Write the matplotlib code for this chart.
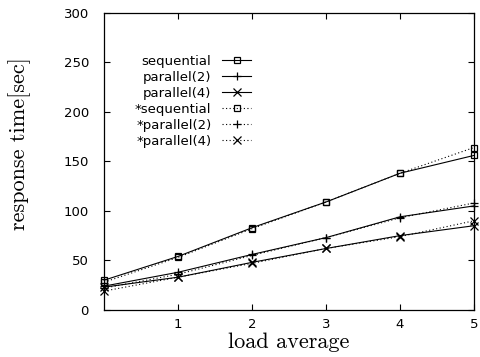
import matplotlib
matplotlib.use('Agg')
import matplotlib.pyplot as plt

loadAverage = [0, 1, 2, 3, 4, 5]

sequential = [30, 54, 83, 109, 138, 156]
parallel2 = [24, 38, 56, 73, 94, 105]
parallel4 = [23, 33, 48, 62, 75, 85]
starSequential = [28, 53, 82, 109, 138, 164]
starParallel2 = [22, 36, 55, 73, 93, 108]
starParallel4 = [19, 33, 47, 62, 74, 90]

seriesLabels = ['sequential', 'parallel(2)', 'parallel(4)',
                '*sequential', '*parallel(2)', '*parallel(4)']

xTicks = [1, 2, 3, 4, 5]
yTicks = [0, 50, 100, 150, 200, 250, 300]

fig = plt.figure(figsize=(4.8, 3.57), dpi=100)
ax = fig.add_axes([0.217, 0.132, 0.7705, 0.832])

solid = '-'
dotted = (0, (1, 2.2))
style = dict(color='black', linewidth=0.8, markerfacecolor='none',
             markeredgecolor='black', markeredgewidth=0.9, clip_on=False)

ax.plot(loadAverage, sequential, linestyle=solid, marker='s', markersize=5, label=seriesLabels[0], **style)
ax.plot(loadAverage, parallel2, linestyle=solid, marker='+', markersize=6, label=seriesLabels[1], **style)
ax.plot(loadAverage, parallel4, linestyle=solid, marker='x', markersize=5.5, label=seriesLabels[2], **style)
ax.plot(loadAverage, starSequential, linestyle=dotted, marker='s', markersize=5, label=seriesLabels[3], **style)
ax.plot(loadAverage, starParallel2, linestyle=dotted, marker='+', markersize=6, label=seriesLabels[4], **style)
ax.plot(loadAverage, starParallel4, linestyle=dotted, marker='x', markersize=5.5, label=seriesLabels[5], **style)

ax.set_xlim(0, 5)
ax.set_ylim(0, 300)
ax.set_xticks(xTicks)
ax.set_yticks(yTicks)
ax.tick_params(direction='in', length=4, width=0.8, top=True, right=True,
               labelsize=9.5, colors='black')
ax.tick_params(axis='x', pad=6)
ax.tick_params(axis='y', pad=11)
for s in ax.spines.values():
    s.set_linewidth(0.9)

ax.set_xlabel('load average', family='cmr10', fontsize=16, labelpad=1)
fig.text(20 / 480, 1 - 144 / 357, 'response time[sec]', family='cmr10',
         fontsize=16, rotation=90, ha='center', va='center')

leg = ax.legend(loc='upper left', bbox_to_anchor=(135 / 480, 1 - 55 / 357),
                bbox_transform=fig.transFigure, frameon=False, markerfirst=False,
                fontsize=9.5, handlelength=2.2, handletextpad=0.8,
                labelspacing=0.22, borderpad=0, borderaxespad=0, numpoints=1)

fig.savefig('out.png', dpi=100)
